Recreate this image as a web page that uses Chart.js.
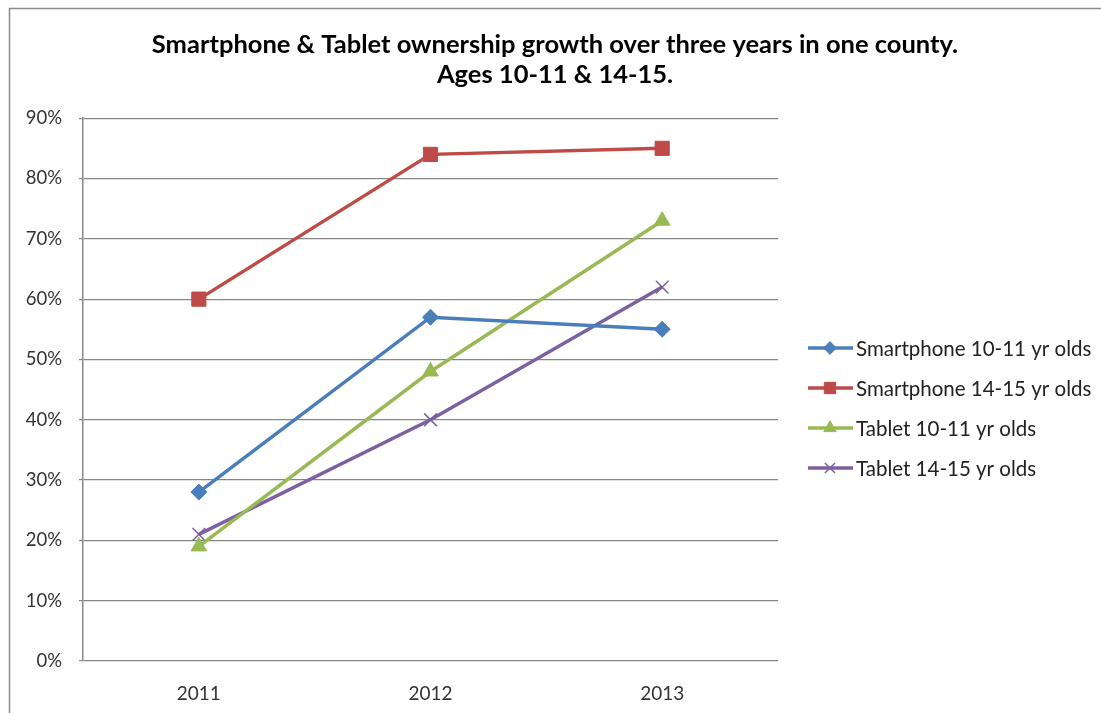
<!DOCTYPE html>
<html>
<head>
<meta charset="utf-8">
<script src="https://cdn.jsdelivr.net/npm/chart.js@4/dist/chart.umd.min.js"></script>
<style>
  body { margin: 0; background: #fff; }
  #wrap { width: 1101px; height: 713px; position: relative; }
</style>
</head>
<body>
<div id="wrap"><canvas id="myChart" width="1101" height="713"></canvas></div>
<script>
const years = ["2011", "2012", "2013"];
const seriesNames = [
  "Smartphone 10-11 yr olds",
  "Smartphone 14-15 yr olds",
  "Tablet 10-11 yr olds",
  "Tablet 14-15 yr olds",
];
const phone1011 = [28, 57, 55];
const phone1415 = [60, 84, 85];
const tablet1011 = [19, 48, 73];
const tablet1415 = [21, 40, 62];
const titleLines = [
  "Smartphone & Tablet ownership growth over three years in one county.",
  "Ages 10-11 & 14-15.",
];

const colors = ["#4a7ebb", "#be4b48", "#98b954", "#7d60a0"];
const markers = ["rectRot", "rect", "triangle", "crossRot"];
const radii = [8, 10, 9, 9];
const font = "Lato, 'Liberation Sans', sans-serif";

const values = [phone1011, phone1415, tablet1011, tablet1415];
const datasets = values.map((v, i) => ({
  label: seriesNames[i],
  data: v,
  borderColor: colors[i],
  backgroundColor: colors[i],
  borderWidth: 3.5,
  pointStyle: markers[i],
  pointRadius: radii[i],
  pointBorderWidth: markers[i] === "crossRot" ? 1.5 : 1,
  pointBorderColor: colors[i],
  tension: 0,
  yAxisID: "y",
}));

// frame + legend drawn on the canvas
const extras = {
  id: "extras",
  afterDraw(chart) {
    const c = chart.ctx;
    c.save();
    c.strokeStyle = "#8c8c8c";
    c.lineWidth = 1.5;
    c.beginPath();
    c.moveTo(9.5, 713);
    c.lineTo(9.5, 8.5);
    c.lineTo(1101, 8.5);
    c.stroke();

    const ys = [348, 388, 428, 468];
    c.font = "20.5px " + font;
    c.textBaseline = "middle";
    chart.data.datasets.forEach((ds, i) => {
      const y = ys[i];
      c.strokeStyle = ds.borderColor;
      c.lineWidth = 3.5;
      c.beginPath();
      c.moveTo(808, y);
      c.lineTo(853, y);
      c.stroke();
      c.fillStyle = ds.backgroundColor;
      c.strokeStyle = ds.borderColor;
      c.lineWidth = ds.pointBorderWidth;
      Chart.helpers.drawPoint(c, {
        pointStyle: ds.pointStyle,
        radius: ds.pointRadius * 0.8,
        borderWidth: ds.pointBorderWidth,
        rotation: 0,
      }, 830, y);
      c.fillStyle = "#222";
      c.fillText(ds.label, 856, y + 1);
    });
    c.restore();
  },
};

const chart = new Chart("myChart", {
  type: "line",
  data: { labels: years, datasets: datasets },
  plugins: [extras],
  options: {
    responsive: false,
    animation: false,
    layout: { padding: { left: 9, right: 0, top: 0, bottom: 0 } },
    plugins: {
      legend: { display: false },
      tooltip: { enabled: false },
      title: {
        display: true,
        text: titleLines,
        color: "#000",
        font: { family: font, size: 25.5, weight: "bold", lineHeight: 1.18 },
        padding: { top: 30, bottom: 28 },
      },
    },
    scales: {
      x: {
        offset: true,
        grid: { display: false },
        border: { display: false },
        ticks: { color: "#333", font: { family: font, size: 19 }, padding: 13 },
        afterFit: (s) => { s.height = 52; },
      },
      y: {
        min: 0,
        max: 90,
        ticks: {
          stepSize: 10,
          color: "#333",
          font: { family: font, size: 18.5 },
          padding: 17,
          callback: (v) => v + "%",
        },
        grid: { color: "#878787", lineWidth: 1.2, tickLength: 4 },
        border: { color: "#878787", width: 1.5 },
        afterFit: (s) => { s.width = 74; },
      },
      // empty right-hand box that keeps room for the legend
      side: {
        position: "right",
        display: true,
        grid: { display: false },
        border: { display: false },
        ticks: { display: false },
        afterFit: (s) => { s.width = 323; },
      },
    },
  },
});
</script>
</body>
</html>
